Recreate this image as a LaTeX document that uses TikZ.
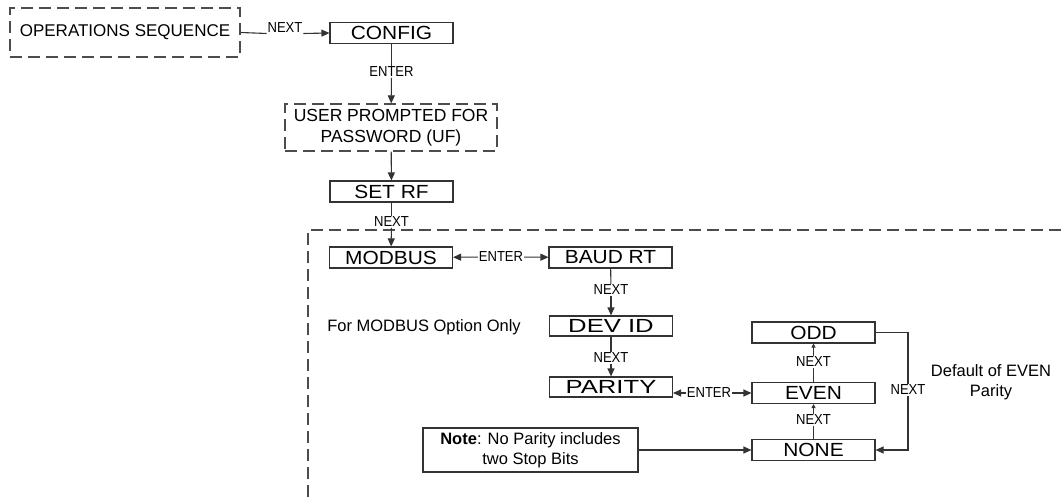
\documentclass[tikz,border=0pt]{standalone}
\usepackage{fontspec}
\setmainfont{Liberation Sans}
\usepackage{graphicx}
\usetikzlibrary{arrows.meta}
\newcommand\hstr[2][1.1]{\scalebox{#1}[1]{#2}}
\newcommand\lt[1]{\scalebox{0.9}[1]{#1}}
\begin{document}
\begin{tikzpicture}[x=1pt,y=-1pt,
  ln/.style={draw=black!80, line width=1.1pt},
  box/.style={ln, minimum width=123pt, minimum height=21pt, inner sep=0pt, font=\fontsize{19}{19}\selectfont},
  dbox/.style={draw=black!70, line width=1.2pt, dash pattern=on 12pt off 6pt, inner sep=0pt},
  lbl/.style={font=\fontsize{14.5}{14.5}\selectfont, inner sep=0.8pt, fill=white},
  side/.style={font=\fontsize{16.5}{20}\selectfont, align=center, inner sep=0pt},
  arr/.style={ln, -{Triangle[length=8pt,width=7pt]}},
  sarr/.style={ln, -{Triangle[length=4pt,width=4pt]}}
]
\useasboundingbox (0,0) rectangle (1063,497);

% top flow
\node[dbox, minimum width=230pt, minimum height=49pt, font=\fontsize{17}{17}\selectfont] (ops) at (125,32.5) {OPERATIONS SEQUENCE};
\node[box] (config) at (391.5,33) {\hstr{CONFIG}};
\node[lbl] (n1) at (285,27.5) {\lt{NEXT}};
\draw[ln] (ops.east) -- (n1.south west);
\draw[arr] (n1.south east) -- (config.west);

\node[lbl] (e1) at (391.5,72) {\lt{ENTER}};
\draw[ln] (config) -- (e1);
\node[dbox, minimum width=212pt, minimum height=47pt, align=center, font=\fontsize{17.5}{21}\selectfont] (user) at (391,127.5) {USER PROMPTED FOR\\PASSWORD (UF)};
\draw[arr] (e1) -- (user);

\node[box] (setrf) at (391.5,191.5) {\hstr{SET RF}};
\draw[arr] (user) -- (setrf);

% dashed region
\draw[dbox] (308,497) -- (308,230) -- (1063,230);
\node[lbl] (n2) at (391.5,222) {\lt{NEXT}};
\draw[ln] (setrf) -- (n2);

\node[box] (modbus) at (391,257.5) {\hstr{MODBUS}};
\draw[arr] (n2) -- (modbus);
\node[box] (baud) at (610.5,257.5) {\hstr{BAUD RT}};
\node[lbl] (e2) at (501,257) {\lt{ENTER}};
\draw[arr] (e2) -- (modbus);
\draw[arr] (e2) -- (baud);

\node[lbl] (n3) at (611,290) {\lt{NEXT}};
\draw[ln] (baud) -- (n3);
\node[box, minimum height=20pt] (devid) at (611,326) {\hstr[1.35]{DEV ID}};
\draw[arr] (n3) -- (devid);
\node[side] (formod) at (424,327) {For MODBUS Option Only};

\node[lbl] (n4) at (611,358) {\lt{NEXT}};
\draw[ln] (devid) -- (n4);
\node[box, minimum height=20pt] (parity) at (611,387) {\hstr[1.35]{PARITY}};
\draw[arr] (n4) -- (parity);

% parity options
\node[box] (odd) at (813.5,332.5) {\hstr{ODD}};
\node[box] (even) at (813.5,393) {\hstr{EVEN}};
\node[box] (none) at (813.5,450) {\hstr{NONE}};

\node[lbl] (e3) at (709,393) {\lt{ENTER}};
\draw[arr] (e3.west) -- (e3.west -| parity.east);
\draw[arr] (e3) -- (even);

\node[lbl] (n5) at (813.5,362) {\lt{NEXT}};
\draw[ln] (even) -- (n5);
\draw[sarr] (n5) -- (odd);
\node[lbl] (n6) at (813.5,420) {\lt{NEXT}};
\draw[ln] (none) -- (n6);
\draw[sarr] (n6) -- (even);

\node[lbl] (n7) at (908,390) {\lt{NEXT}};
\draw[ln] (odd.east) -| (n7.north);
\draw[arr] (n7.south) |- (none.east);

\node[side] (deflt) at (991,382) {Default of EVEN\\Parity};

\node[ln, minimum width=215pt, minimum height=44pt, align=center, inner sep=0pt, font=\fontsize{16.5}{20}\selectfont] (note) at (530.5,450) {\textbf{Note}: No Parity includes\\two Stop Bits};
\draw[arr] (note) -- (none);
\end{tikzpicture}
\end{document}
